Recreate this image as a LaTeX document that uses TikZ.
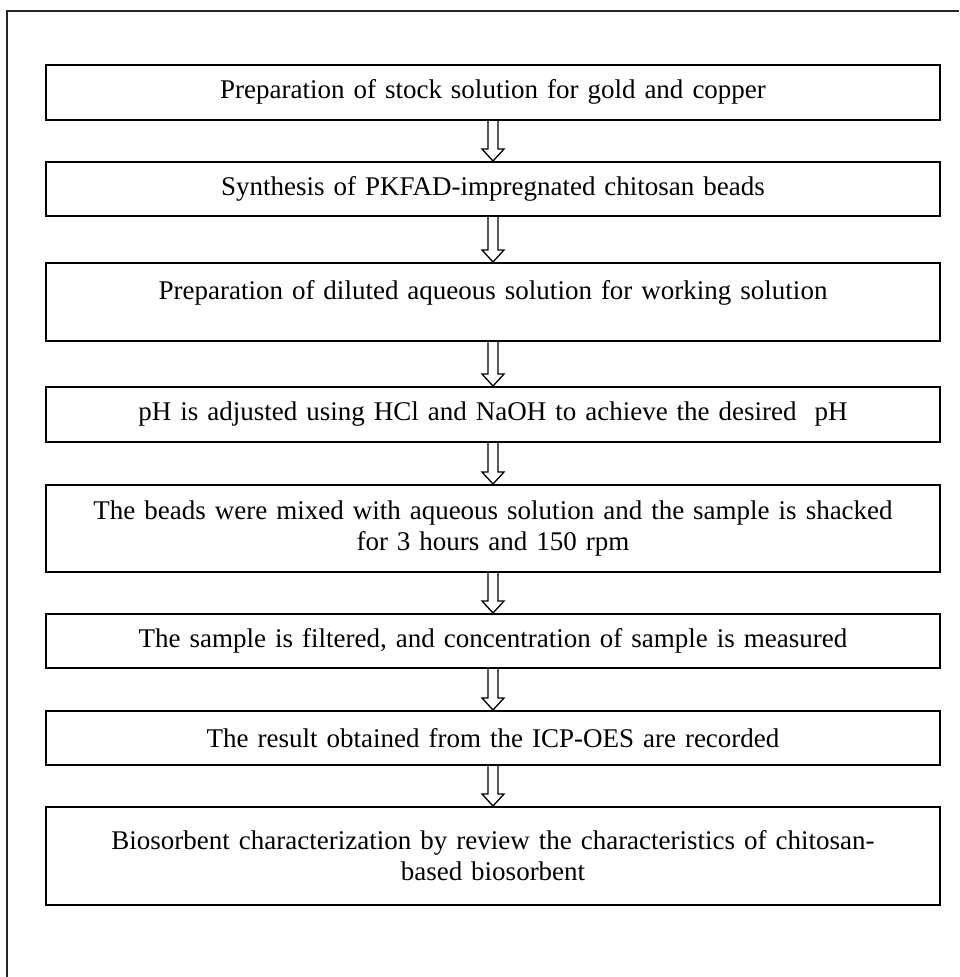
\documentclass[tikz,border=0pt]{standalone}
\usepackage{fontspec}
\setmainfont{Liberation Serif}
\usetikzlibrary{calc}
\tikzset{
  stepbox/.style={draw=black, line width=1.6pt, rectangle, inner sep=0pt,
    minimum width=894pt, text width=880pt, align=center, anchor=north,
    font=\fontsize{27}{31}\selectfont},
  arrowline/.style={draw=black, line width=1.3pt, line join=miter},
  frameline/.style={draw=black!85, line width=2.6pt}
}
\newcommand\flowarrow[2]{%
  \draw[arrowline] let \p1=(#1.south), \p2=(#2.north) in
    (\x1-5pt,\y1) -- (\x1-5pt,\y2+12pt) -- (\x1-11pt,\y2+12pt) -- (\x1,\y2)
    -- (\x1+11pt,\y2+12pt) -- (\x1+5pt,\y2+12pt) -- (\x1+5pt,\y1);}
\begin{document}
\begin{tikzpicture}[x=1pt,y=-1pt]
\useasboundingbox (0,0) rectangle (959,977);
\coordinate (fa) at (7,977);
\coordinate (fb) at (7,11);
\coordinate (fc) at (959,11);
\draw[frameline] (fa) -- (fb) -- (fc);

\node[stepbox, minimum height=55pt] (b1) at (493,64) {Preparation of stock solution for gold and copper};
\node[stepbox, minimum height=54pt] (b2) at (493,161) {Synthesis of PKFAD-impregnated chitosan beads};
\node[stepbox, minimum height=78pt, text depth=24pt] (b3) at (493,262) {Preparation of diluted aqueous solution for working solution};
\node[stepbox, minimum height=55pt] (b4) at (493,386) {pH is adjusted using HCl and NaOH to achieve the desired~ pH};
\node[stepbox, minimum height=87pt] (b5) at (493,484) {The beads were mixed with aqueous solution and the sample is shacked\\ for 3 hours and 150 rpm};
\node[stepbox, minimum height=54pt] (b6) at (493,613) {The sample is filtered, and concentration of sample is measured};
\node[stepbox, minimum height=54pt] (b7) at (493,710) {The result obtained from the ICP-OES are recorded};
\node[stepbox, minimum height=98pt] (b8) at (493,806) {Biosorbent characterization by review the characteristics of chitosan-\\ based biosorbent};

\flowarrow{b1}{b2}
\flowarrow{b2}{b3}
\flowarrow{b3}{b4}
\flowarrow{b4}{b5}
\flowarrow{b5}{b6}
\flowarrow{b6}{b7}
\flowarrow{b7}{b8}
\end{tikzpicture}
\end{document}
